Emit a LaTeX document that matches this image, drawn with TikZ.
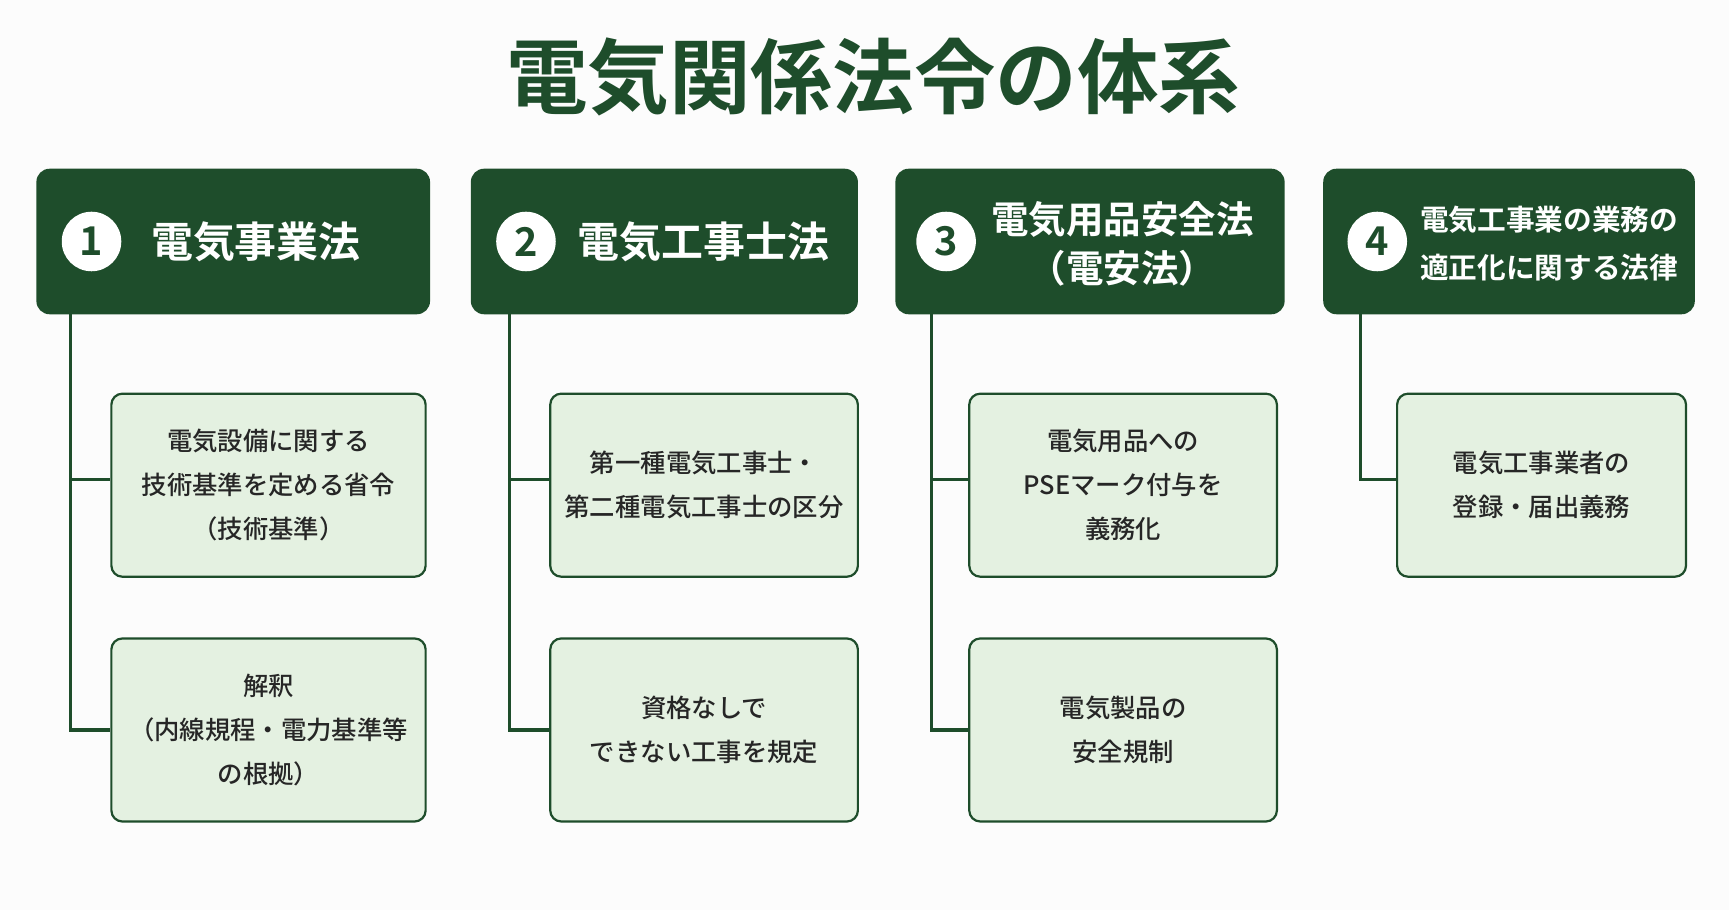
\documentclass[tikz,border=0pt]{standalone}
\usepackage{fontspec}
\newfontfamily\cjk{Noto Sans CJK JP Medium}
\newfontfamily\cjkb{Noto Sans CJK JP Bold}
\usetikzlibrary{positioning}
\definecolor{dkgreen}{HTML}{1E4D2B}
\definecolor{ltgreen}{HTML}{E4F1E1}
\begin{document}
\begin{tikzpicture}[x=0.5pt, y=-0.5pt,
  head/.style={fill=dkgreen, rounded corners=6pt, inner sep=0pt, minimum height=66pt},
  num/.style={circle, fill=white, text=dkgreen, minimum size=27pt, inner sep=0pt, font=\cjkb\fontsize{18}{18}\selectfont},
  htext/.style={text=white, font=\cjkb\fontsize{17}{22}\selectfont, align=center},
  sub/.style={draw=dkgreen, line width=1pt, fill=ltgreen, rounded corners=5pt, minimum height=83pt, align=center, font=\cjk\fontsize{11.5}{20}\selectfont, text=black!85},
  tree/.style={draw=dkgreen, line width=1.4pt}]
\useasboundingbox (0,0) rectangle (1568,825);
\fill[white!99!black] (0,0) rectangle (1568,825);

% Title
\node[text=dkgreen, font=\cjkb\fontsize{37}{37}\selectfont] (title) at (792,70) {電気関係法令の体系};

% Headers
\node[head, minimum width=178.5pt] (h1) at (211.5,219) {};
\node[head, minimum width=175.5pt] (h2) at (602.5,219) {};
\node[head, minimum width=176.5pt] (h3) at (988.5,219) {};
\node[head, minimum width=168.5pt] (h4) at (1368.5,219) {};
\node[num] (n1) at (83,219) {1};
\node[num] (n2) at (477,219) {2};
\node[num] (n3) at (858,219) {3};
\node[num] (n4) at (1249,219) {4};
\node[htext, anchor=west, font=\cjkb\fontsize{19}{22}\selectfont] (t1) at (130,219) {電気事業法};
\node[htext, anchor=west, font=\cjkb\fontsize{19}{22}\selectfont] (t2) at (517,219) {電気工事士法};
\node[htext] (t3) at (1018,221) {電気用品安全法\\（電安法）};
\node[htext, font=\cjkb\fontsize{13}{22}\selectfont] (t4) at (1405,221) {電気工事業の業務の\\適正化に関する法律};

% Sub boxes
\node[sub, minimum width=142.5pt] (s11) at (243.5,440) {電気設備に関する\\技術基準を定める省令\\（技術基準）};
\node[sub, minimum width=142.5pt] (s12) at (243.5,662) {解釈\\（内線規程・電力基準等\\の根拠）};
\node[sub, minimum width=139.5pt] (s21) at (638.5,440) {第一種電気工事士・\\第二種電気工事士の区分};
\node[sub, minimum width=139.5pt] (s22) at (638.5,662) {資格なしで\\できない工事を規定};
\node[sub, minimum width=139.5pt] (s31) at (1018.5,440) {電気用品への\\PSEマーク付与を\\義務化};
\node[sub, minimum width=139.5pt] (s32) at (1018.5,662) {電気製品の\\安全規制};
\node[sub, minimum width=131pt] (s41) at (1398,440) {電気工事業者の\\登録・届出義務};

% Tree lines
\foreach \c/\x in {1/64,2/462,3/845} {
  \draw[tree] (\x,285) |- (s\c2.west);
  \draw[tree] (\x,435) -- (\x,435 -| s\c1.west);
}
\draw[tree] (1234,285) |- (1234,435) -- (1234,435 -| s41.west);
\end{tikzpicture}
\end{document}
